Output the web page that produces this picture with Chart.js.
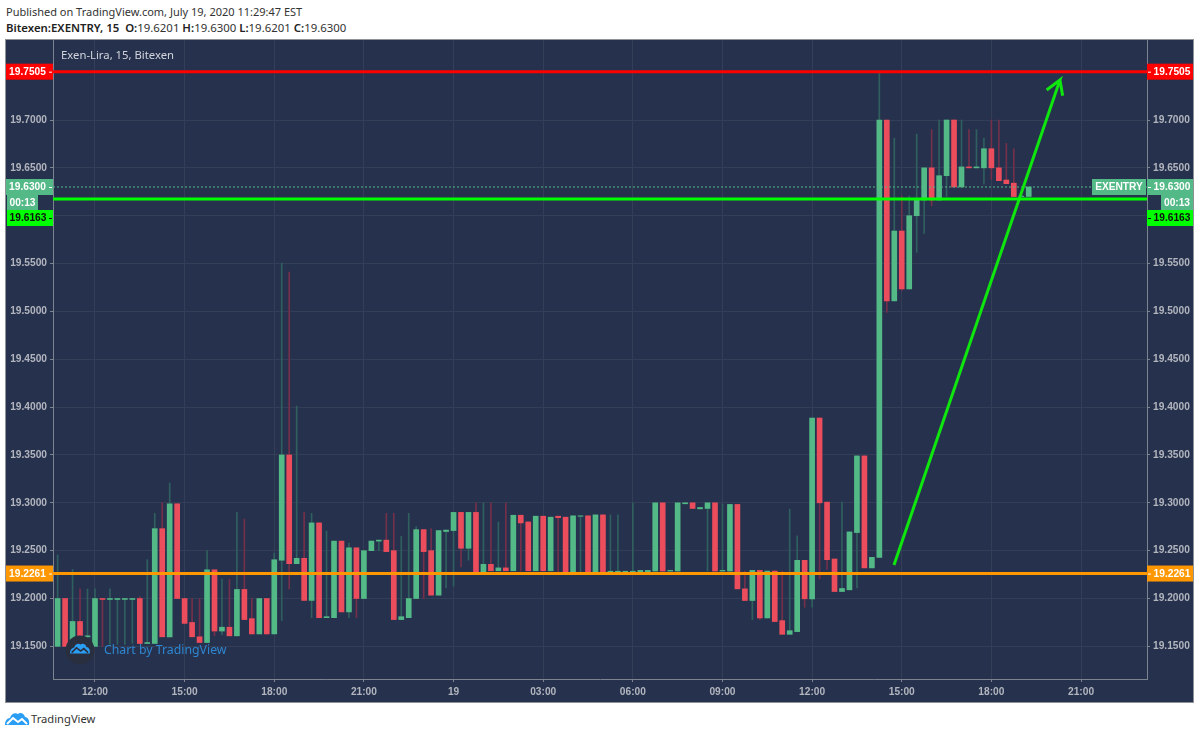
<!DOCTYPE html>
<html>
<head>
<meta charset="utf-8">
<title>Exen-Lira, 15, Bitexen</title>
<script src="https://cdn.jsdelivr.net/npm/chart.js@4/dist/chart.umd.min.js"></script>
<style>
  html, body { margin: 0; padding: 0; background: #fff; width: 1200px; height: 735px; overflow: hidden; }
  .header { position: absolute; left: 6px; color: #333; font: 11px "Noto Sans", sans-serif; white-space: nowrap; }
  .header b { font-weight: 600; color: #222; }
  .panel { position: absolute; left: 5px; top: 39px; width: 1187px; height: 662px; background: #26324d; border: 1px solid #8f9297; }
  .footer { position: absolute; left: 31px; top: 711px; color: #333; font: 11.2px "Noto Sans", sans-serif; }
  .footer-logo { position: absolute; left: 5px; top: 711px; }
  canvas { display: block; }
</style>
</head>
<body>
<div class="header" style="top:4px">Published on TradingView.com, July 19, 2020 11:29:47 EST</div>
<div class="header" style="top:20px;font-size:11.4px"><b>Bitexen:EXENTRY, 15</b>&nbsp; <b>O:</b>19.6201 <b>H:</b>19.6300 <b>L:</b>19.6201 <b>C:</b>19.6300</div>
<div class="panel"><canvas id="chart" width="1187" height="662"></canvas></div>
<svg class="footer-logo" width="25" height="15" viewBox="0 0 25 15">
  <path fill="#2a9df4" d="M0 14 C0 10 2 7 5 7 C6 3 10 1 13 3 C15 1 19 2 20 6 C23 6 25 10 24 14 Z"/>
  <path fill="none" stroke="#fff" stroke-width="2" d="M2 13 L8 7 L13 11 L17 8 L22 13"/>
</svg>
<div class="footer">TradingView</div>

<script>
// x is the bar number counted from the first 12:00 tick (15 minute bars)
const xTickValues = [0, 12, 24, 36, 48, 60, 72, 84, 96, 108, 120, 132];
const xTickLabels = ['12:00', '15:00', '18:00', '21:00', '19', '03:00', '06:00', '09:00', '12:00', '15:00', '18:00', '21:00'];
const yTickValues = [19.75, 19.7, 19.65, 19.6, 19.55, 19.5, 19.45, 19.4, 19.35, 19.3, 19.25, 19.2, 19.15];
const yTickHidden = [19.75, 19.6]; // covered by the price tags

const firstBar = -5;
const candleOpen = [
  19.15, 19.2, 19.15, 19.176, 19.16, 19.15, 19.2, 19.199, 19.199, 19.199,
  19.199, 19.2, 19.153, 19.153, 19.273, 19.16, 19.299, 19.2, 19.175, 19.16,
  19.154, 19.23, 19.166, 19.17, 19.161, 19.2095, 19.179, 19.163, 19.2, 19.163,
  19.24, 19.35, 19.2364, 19.242, 19.198, 19.279, 19.18, 19.18, 19.26, 19.186,
  19.253, 19.2, 19.25, 19.26, 19.261, 19.25, 19.178, 19.18, 19.2, 19.272,
  19.25, 19.2035, 19.27, 19.271, 19.29, 19.2525, 19.29, 19.2275, 19.2357, 19.229,
  19.232, 19.229, 19.287, 19.28, 19.229, 19.286, 19.229, 19.286, 19.285, 19.2275,
  19.286, 19.2864, 19.228, 19.2874, 19.228, 19.228, 19.228, 19.228, 19.2273, 19.228,
  19.2287, 19.3, 19.2287, 19.2287, 19.299, 19.3, 19.2937, 19.2941, 19.3, 19.2287,
  19.2287, 19.2983, 19.2101, 19.1979, 19.2294, 19.1797, 19.2287, 19.1769, 19.1626, 19.1654,
  19.2399, 19.1997, 19.3886, 19.3007, 19.2413, 19.2073, 19.2091, 19.2689, 19.349, 19.232,
  19.243, 19.7, 19.511, 19.584, 19.5235, 19.6, 19.6164, 19.65, 19.6164, 19.6418,
  19.7, 19.63, 19.651, 19.65, 19.65, 19.67, 19.65, 19.6373, 19.634, 19.62,
  19.6201
];
const candleClose = [
  19.2, 19.15, 19.176, 19.16, 19.161, 19.2, 19.199, 19.2, 19.2, 19.2,
  19.2, 19.153, 19.154, 19.273, 19.16, 19.299, 19.2, 19.174, 19.16, 19.154,
  19.23, 19.166, 19.17, 19.161, 19.2095, 19.178, 19.163, 19.2, 19.163, 19.2405,
  19.35, 19.2364, 19.242, 19.198, 19.279, 19.18, 19.181, 19.26, 19.186, 19.253,
  19.2, 19.25, 19.26, 19.261, 19.249, 19.178, 19.181, 19.2, 19.272, 19.249,
  19.2035, 19.271, 19.2715, 19.29, 19.2525, 19.29, 19.2275, 19.2357, 19.229, 19.232,
  19.229, 19.287, 19.279, 19.229, 19.286, 19.229, 19.285, 19.2845, 19.227, 19.2864,
  19.2864, 19.228, 19.2874, 19.228, 19.2285, 19.2285, 19.2285, 19.2285, 19.2294, 19.2294,
  19.3, 19.2287, 19.2294, 19.3, 19.3, 19.2941, 19.2951, 19.3, 19.2287, 19.2294,
  19.2983, 19.2101, 19.1979, 19.2294, 19.1797, 19.2287, 19.1759, 19.1626, 19.1664, 19.2399,
  19.1997, 19.3886, 19.3, 19.2406, 19.2073, 19.2105, 19.2696, 19.349, 19.232, 19.243,
  19.7, 19.511, 19.584, 19.5235, 19.6, 19.6164, 19.65, 19.6164, 19.6418, 19.7,
  19.63, 19.651, 19.65, 19.651, 19.67, 19.65, 19.6366, 19.6335, 19.62, 19.6205,
  19.63
];
const candleHigh = [
  19.2455, 19.2, 19.2305, 19.21, 19.21, 19.21, 19.2, 19.21, 19.2, 19.2,
  19.2, 19.202, 19.2406, 19.289, 19.3, 19.3206, 19.299, 19.2, 19.2, 19.2,
  19.25, 19.23, 19.2206, 19.22, 19.29, 19.283, 19.2, 19.2, 19.2, 19.2475,
  19.5506, 19.541, 19.4011, 19.29, 19.289, 19.279, 19.2706, 19.26, 19.26, 19.258,
  19.253, 19.25, 19.26, 19.261, 19.289, 19.289, 19.265, 19.289, 19.275, 19.272,
  19.273, 19.271, 19.2715, 19.29, 19.29, 19.29, 19.3, 19.3, 19.3, 19.28,
  19.3, 19.287, 19.287, 19.28, 19.286, 19.286, 19.285, 19.286, 19.285, 19.2864,
  19.2864, 19.2864, 19.2874, 19.2874, 19.2874, 19.2874, 19.2285, 19.3, 19.2294, 19.2294,
  19.3, 19.3, 19.2294, 19.3, 19.3, 19.3, 19.2951, 19.3, 19.3, 19.299,
  19.2983, 19.2983, 19.2287, 19.2294, 19.2294, 19.2287, 19.2287, 19.2287, 19.2934, 19.2654,
  19.2399, 19.3886, 19.3886, 19.3007, 19.2413, 19.3007, 19.2696, 19.349, 19.349, 19.243,
  19.75, 19.7, 19.681, 19.6206, 19.6206, 19.6854, 19.65, 19.69, 19.7, 19.7,
  19.7, 19.7, 19.69, 19.69, 19.681, 19.7, 19.7, 19.6756, 19.67, 19.6205,
  19.63
];
const candleLow = [
  19.15, 19.15, 19.15, 19.155, 19.15, 19.15, 19.15, 19.152, 19.152, 19.152,
  19.153, 19.153, 19.153, 19.153, 19.16, 19.16, 19.2, 19.174, 19.16, 19.154,
  19.154, 19.161, 19.162, 19.161, 19.161, 19.178, 19.163, 19.163, 19.163, 19.163,
  19.177, 19.21, 19.2364, 19.198, 19.18, 19.18, 19.18, 19.18, 19.186, 19.18,
  19.18, 19.2, 19.25, 19.25, 19.249, 19.178, 19.178, 19.18, 19.2, 19.2,
  19.2035, 19.2035, 19.211, 19.213, 19.233, 19.24, 19.2275, 19.2275, 19.229, 19.229,
  19.229, 19.229, 19.229, 19.229, 19.229, 19.229, 19.229, 19.228, 19.227, 19.2275,
  19.228, 19.228, 19.228, 19.228, 19.228, 19.228, 19.228, 19.228, 19.2273, 19.228,
  19.2287, 19.2287, 19.2287, 19.2287, 19.299, 19.2941, 19.2937, 19.2287, 19.2287, 19.2287,
  19.2287, 19.2101, 19.1979, 19.178, 19.178, 19.1797, 19.1759, 19.1626, 19.1626, 19.1654,
  19.1909, 19.1909, 19.2206, 19.2304, 19.2073, 19.2073, 19.2091, 19.2112, 19.232, 19.232,
  19.243, 19.499, 19.511, 19.5215, 19.5235, 19.5617, 19.5816, 19.6105, 19.6164, 19.62,
  19.63, 19.63, 19.65, 19.65, 19.633, 19.638, 19.6366, 19.6335, 19.62, 19.62,
  19.6201
];

// drawn levels and the arrow, in chart units
const resistanceLevel = 19.7505;
const lastPrice = 19.63;
const entryLevel = 19.6174;
const supportLevel = 19.2261;
const arrowBars = [106.96, 129.18, 127.4, 129.18, 129.54];
const arrowPrices = [19.235, 19.7418, 19.7313, 19.7418, 19.7254];

const xMin = -5.62, xMax = 140.83, yMin = 19.1159, yMax = 19.7836;

const upColor = '#53b987', downColor = '#eb4d5c';
const upWick = '#2f5f5e', downWick = '#74304a';
const tickText = '#b2b5be', spineColor = '#7d838f', gridColor = '#343e57';
const tickFont = { family: '"Liberation Sans", sans-serif', size: 10.2, weight: 'bold' };

const bars = candleOpen.map((_, i) => firstBar + i);
const isUp = i => candleClose[i] >= candleOpen[i];

function levelLine(value, color, width, dash) {
  return {
    type: 'line',
    data: [{ x: xMin, y: value }, { x: xMax, y: value }],
    borderColor: color,
    borderWidth: width,
    borderDash: dash || [],
    pointRadius: 0,
    order: 0
  };
}

// fixed axis sizes so the plot sits where the reference has it
function fixAxis(size) {
  return scale => {
    if (scale.isHorizontal()) scale.height = size; else scale.width = size;
    scale.paddingTop = scale.paddingBottom = scale.paddingLeft = scale.paddingRight = 0;
  };
}

function drawTag(ctx, text, x1, x2, yMid, bg, fg, tickSide) {
  ctx.fillStyle = bg;
  ctx.fillRect(x1, yMid - 8, x2 - x1, 16);
  ctx.fillStyle = fg;
  ctx.font = 'bold 10.2px "Liberation Sans", sans-serif';
  ctx.textAlign = 'center';
  ctx.textBaseline = 'middle';
  ctx.fillText(text, (x1 + x2) / 2 + (tickSide === 'left' ? 2 : tickSide === 'right' ? -2 : 0), yMid + 0.5);
  if (tickSide === 'right') ctx.fillRect(x2 - 4, yMid, 3, 1);
  if (tickSide === 'left') ctx.fillRect(x1 + 1, yMid, 3, 1);
}

function drawCloud(ctx, x, y, scale, lineColor) {
  ctx.save();
  ctx.translate(x, y);
  ctx.scale(scale, scale);
  ctx.fillStyle = '#2a9df4';
  ctx.fill(new Path2D('M0 14 C0 10 2 7 5 7 C6 3 10 1 13 3 C15 1 19 2 20 6 C23 6 25 10 24 14 Z'));
  ctx.strokeStyle = lineColor;
  ctx.lineWidth = 2;
  ctx.stroke(new Path2D('M2 13 L8 7 L13 11 L17 8 L22 13'));
  ctx.restore();
}

const overlayPlugin = {
  id: 'overlay',
  afterDraw(chart) {
    const ctx = chart.ctx;
    const yScale = chart.scales.y;
    const left = chart.chartArea.left, right = chart.chartArea.right;
    const redY = yScale.getPixelForValue(resistanceLevel);
    const lastY = yScale.getPixelForValue(lastPrice);
    const orangeY = yScale.getPixelForValue(supportLevel);
    const full = right + 46;

    // price tags, both sides
    drawTag(ctx, '19.7505', 0, left, redY, '#ff0000', '#fff', 'right');
    drawTag(ctx, '19.7505', right, full, redY, '#ff0000', '#fff', 'left');
    drawTag(ctx, '19.6300', 0, left, lastY, upColor, '#fff', 'right');
    drawTag(ctx, '19.6300', right, full, lastY, upColor, '#fff', 'left');
    drawTag(ctx, 'EXENTRY', right - 55, right - 1, lastY, upColor, '#fff');
    drawTag(ctx, '00:13', 1, 32, lastY + 16, upColor, '#fff');
    drawTag(ctx, '00:13', right + 14, full, lastY + 16, upColor, '#fff');
    drawTag(ctx, '19.6163', 1, left, lastY + 31, '#00ff00', '#111', 'right');
    drawTag(ctx, '19.6163', right, full, lastY + 31, '#00ff00', '#111', 'left');
    drawTag(ctx, '19.2261', 0, left, orangeY, '#ff9800', '#fff', 'right');
    drawTag(ctx, '19.2261', right, full, orangeY, '#ff9800', '#fff', 'left');

    // legend title
    ctx.fillStyle = '#d1d4dc';
    ctx.font = '11.3px "Noto Sans", sans-serif';
    ctx.textAlign = 'left';
    ctx.textBaseline = 'middle';
    ctx.fillText('Exen-Lira, 15, Bitexen', 55, 16);

    // watermark
    ctx.fillStyle = '#2a2f40';
    ctx.beginPath();
    ctx.arc(74, 610, 14.5, 0, Math.PI * 2);
    ctx.fill();
    drawCloud(ctx, 64, 602, 0.82, '#2a2f40');
    ctx.fillStyle = '#2e86d1';
    ctx.font = '12.3px "Noto Sans", sans-serif';
    ctx.fillText('Chart by TradingView', 98, 610);
  }
};

new Chart(document.getElementById('chart'), {
  type: 'bar',
  data: {
    datasets: [
      levelLine(resistanceLevel, '#ff0000', 3),
      levelLine(supportLevel, '#ff9800', 3),
      levelLine(entryLevel, '#00ff00', 3),
      {
        type: 'line',
        data: arrowBars.map((x, i) => ({ x, y: arrowPrices[i] })),
        borderColor: '#0ee60e',
        borderWidth: 3,
        pointRadius: 0,
        order: 0
      },
      levelLine(lastPrice, upColor, 1, [2, 2]),
      {
        data: bars.map((x, i) => ({ x, y: [candleOpen[i], candleClose[i]] })),
        backgroundColor: bars.map((_, i) => isUp(i) ? upColor : downColor),
        barThickness: 5,
        grouped: false,
        order: 1
      },
      {
        data: bars.map((x, i) => ({ x, y: [candleLow[i], candleHigh[i]] })),
        backgroundColor: bars.map((_, i) => isUp(i) ? upWick : downWick),
        barThickness: 1,
        grouped: false,
        order: 2
      }
    ]
  },
  options: {
    responsive: false,
    animation: false,
    layout: { padding: 0 },
    plugins: { legend: { display: false }, tooltip: { enabled: false } },
    scales: {
      x: {
        type: 'linear',
        offset: false,
        min: xMin,
        max: xMax,
        afterBuildTicks: scale => { scale.ticks = xTickValues.map(value => ({ value })); },
        afterFit: fixAxis(23),
        grid: { offset: false, color: gridColor, tickColor: spineColor, tickLength: 3 },
        border: { color: spineColor },
        ticks: {
          autoSkip: false,
          maxRotation: 0,
          padding: 4,
          color: tickText,
          font: tickFont,
          callback: value => xTickLabels[xTickValues.indexOf(value)]
        }
      },
      y: {
        position: 'left',
        min: yMin,
        max: yMax,
        afterBuildTicks: scale => { scale.ticks = yTickValues.map(value => ({ value })); },
        afterFit: fixAxis(47),
        grid: { color: gridColor, tickColor: spineColor, tickLength: 3 },
        border: { color: spineColor },
        ticks: {
          autoSkip: false,
          padding: 3,
          color: tickText,
          font: tickFont,
          callback: value => yTickHidden.includes(value) ? '' : value.toFixed(4)
        }
      },
      yRight: {
        position: 'right',
        min: yMin,
        max: yMax,
        afterBuildTicks: scale => { scale.ticks = yTickValues.map(value => ({ value })); },
        afterFit: fixAxis(46),
        grid: { drawOnChartArea: false, tickColor: spineColor, tickLength: 3 },
        border: { color: spineColor },
        ticks: {
          autoSkip: false,
          padding: 3,
          color: tickText,
          font: tickFont,
          callback: value => yTickHidden.includes(value) ? '' : value.toFixed(4)
        }
      }
    }
  },
  plugins: [overlayPlugin]
});
</script>
</body>
</html>
